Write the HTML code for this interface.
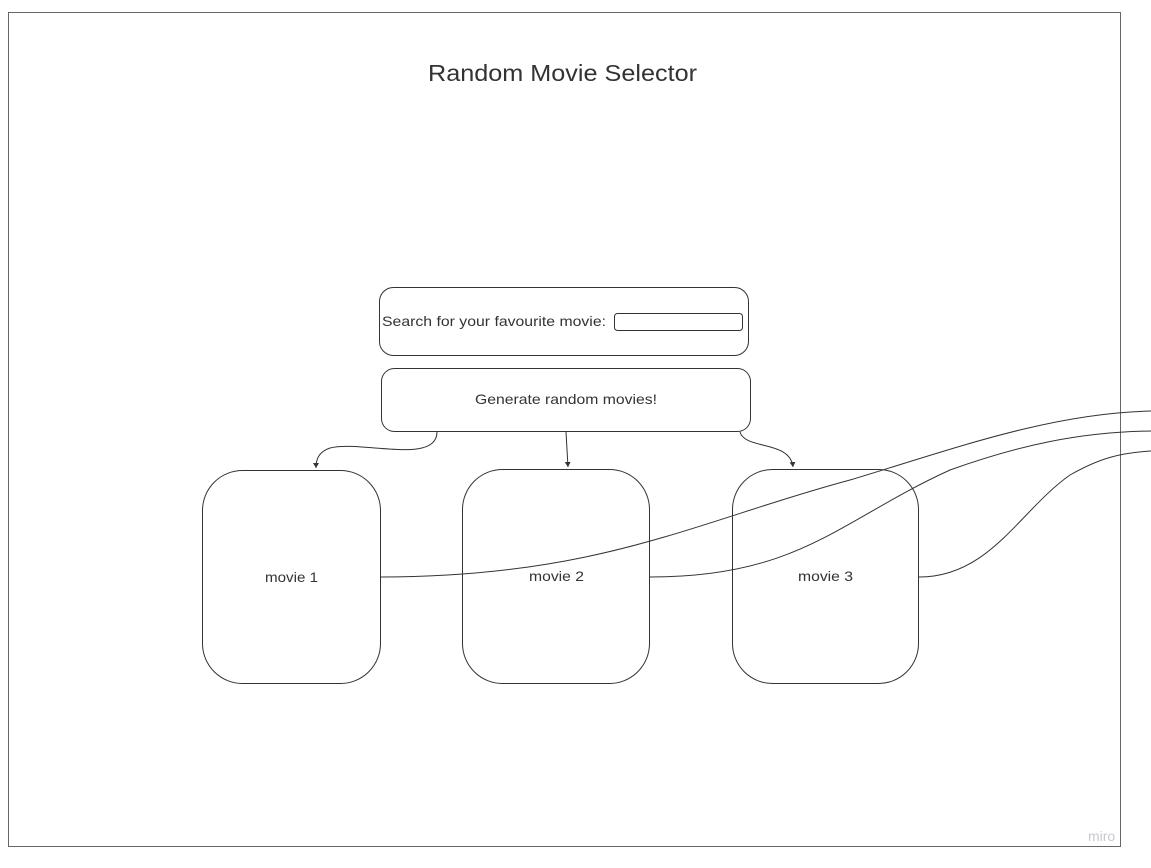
<!DOCTYPE html>
<html><head><meta charset="utf-8"><style>
html,body{margin:0;padding:0;background:#fff;width:1151px;height:868px;overflow:hidden}
svg text{font-family:"Liberation Sans",sans-serif;fill:#333}
</style></head><body>
<svg width="1151" height="868" viewBox="0 0 1151 868" xmlns="http://www.w3.org/2000/svg">
<defs><marker id="a" markerWidth="6" markerHeight="6" refX="5" refY="3" orient="auto" markerUnits="userSpaceOnUse"><path d="M0,0 L5,3 L0,6" fill="#333"/></marker></defs>
<rect x="8.5" y="12.5" width="1112" height="834" fill="#fff" stroke="#666" stroke-width="1"/>
<text x="428" y="81" font-size="23" textLength="269" lengthAdjust="spacingAndGlyphs">Random Movie Selector</text>
<rect x="379.5" y="287.5" width="369" height="68" rx="14" fill="none" stroke="#333"/>
<text x="382" y="326" font-size="14" textLength="224" lengthAdjust="spacingAndGlyphs">Search for your favourite movie:</text>
<rect x="614.5" y="313.5" width="128" height="17" rx="3" fill="none" stroke="#333"/>
<rect x="381.5" y="368.5" width="369" height="63" rx="13" fill="none" stroke="#333"/>
<text x="475" y="404" font-size="14" textLength="182" lengthAdjust="spacingAndGlyphs">Generate random movies!</text>
<g fill="none" stroke="#333" stroke-width="1">
<rect x="202.5" y="470.5" width="178" height="213" rx="40"/>
<rect x="462.5" y="469.5" width="187" height="214" rx="40"/>
<rect x="732.5" y="469.5" width="186" height="214" rx="40"/>
<path d="M437,432 C437,465 360,440 330,448 C318,452 316,460 316,468" marker-end="url(#a)"/>
<path d="M566,432 L568,467" marker-end="url(#a)"/>
<path d="M740,432 C745,450 790,440 793,467" marker-end="url(#a)"/>
<path d="M381,577 C600,577 700,520 850,480 C950,450 1050,413 1151,411"/>
<path d="M650,577 C800,577 840,520 950,470 C1020,445 1080,432 1151,431"/>
<path d="M919,577 C990,577 1020,510 1070,475 C1100,458 1120,453 1151,451"/>
</g>
<text x="265" y="582" font-size="14" textLength="53" lengthAdjust="spacingAndGlyphs">movie 1</text>
<text x="529" y="581" font-size="14" textLength="55" lengthAdjust="spacingAndGlyphs">movie 2</text>
<text x="798" y="581" font-size="14" textLength="55" lengthAdjust="spacingAndGlyphs">movie 3</text>
<text x="1088" y="841" font-size="14" style="fill:#c8c8d0">miro</text>
</svg>
</body></html>
